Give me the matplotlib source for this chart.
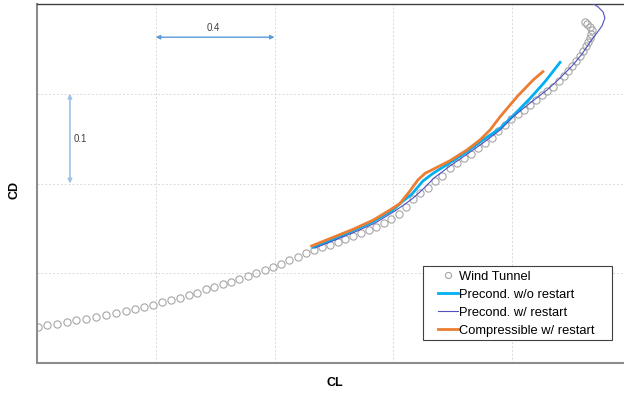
import matplotlib.pyplot as plt
from matplotlib.patches import Rectangle

plt.rcParams['font.family'] = ['Liberation Sans', 'DejaVu Sans']

# Wind tunnel data (CL, CD)
wt_cl = [0.002, 0.035, 0.067, 0.100, 0.132, 0.165, 0.199, 0.232, 0.266, 0.299,
         0.329, 0.361, 0.392, 0.422, 0.451, 0.483, 0.511, 0.540, 0.568, 0.596,
         0.625, 0.652, 0.681, 0.711, 0.738, 0.767, 0.795, 0.822, 0.850, 0.878,
         0.906, 0.933, 0.961, 0.987, 1.013, 1.039, 1.065, 1.091, 1.117, 1.143,
         1.168, 1.193, 1.218, 1.243, 1.267, 1.290, 1.317, 1.341, 1.364, 1.391,
         1.415, 1.438, 1.462, 1.485, 1.509, 1.533, 1.553, 1.576, 1.597, 1.620,
         1.640, 1.661, 1.681, 1.701, 1.718, 1.738, 1.758, 1.775, 1.789, 1.802,
         1.816, 1.829, 1.839, 1.849, 1.856, 1.863, 1.866, 1.870, 1.863, 1.853,
         1.846]
wt_cd = [0.0404, 0.0423, 0.0438, 0.0457, 0.0476, 0.0490, 0.0516, 0.0531, 0.0554, 0.0576,
         0.0598, 0.0624, 0.0650, 0.0676, 0.0702, 0.0727, 0.0758, 0.0783, 0.0821, 0.0850,
         0.0880, 0.0906, 0.0936, 0.0966, 0.0999, 0.1036, 0.1073, 0.1106, 0.1148, 0.1184,
         0.1226, 0.1259, 0.1289, 0.1318, 0.1348, 0.1378, 0.1412, 0.1445, 0.1479, 0.1519,
         0.1556, 0.1604, 0.1657, 0.1738, 0.1827, 0.1894, 0.1950, 0.2028, 0.2084, 0.2173,
         0.2228, 0.2284, 0.2329, 0.2396, 0.2451, 0.2507, 0.2585, 0.2652, 0.2719, 0.2774,
         0.2819, 0.2875, 0.2930, 0.2986, 0.3031, 0.3075, 0.3142, 0.3198, 0.3253, 0.3309,
         0.3365, 0.3421, 0.3476, 0.3532, 0.3577, 0.3621, 0.3666, 0.3710, 0.3744, 0.3777,
         0.3799]

# Preconditioned, no restart
pre_cl = [0.930, 0.997, 1.064, 1.132, 1.199, 1.233, 1.263, 1.300, 1.334, 1.391,
          1.448, 1.502, 1.560, 1.603, 1.661, 1.711, 1.762]
pre_cd = [0.1289, 0.1378, 0.1474, 0.1574, 0.1705, 0.1805, 0.1883, 0.2028, 0.2113, 0.2231,
          0.2354, 0.2485, 0.2615, 0.2752, 0.2949, 0.3134, 0.3350]

# Preconditioned, with restart
prer_cl = [0.936, 1.004, 1.071, 1.139, 1.206, 1.240, 1.267, 1.290, 1.314, 1.337,
           1.364, 1.391, 1.445, 1.502, 1.560, 1.603, 1.661, 1.718, 1.762, 1.802,
           1.836, 1.863, 1.886, 1.903, 1.913, 1.907, 1.890, 1.870, 1.846]
prer_cd = [0.1281, 0.1370, 0.1460, 0.1560, 0.1694, 0.1772, 0.1838, 0.1905, 0.1983, 0.2061,
           0.2128, 0.2195, 0.2318, 0.2451, 0.2596, 0.2741, 0.2897, 0.3042, 0.3175, 0.3309,
           0.3443, 0.3577, 0.3677, 0.3755, 0.3844, 0.3911, 0.3967, 0.4011, 0.4067]

# Compressible, with restart
comp_cl = [0.925, 0.998, 1.065, 1.133, 1.189, 1.223, 1.256, 1.283, 1.307, 1.334,
           1.391, 1.448, 1.492, 1.526, 1.560, 1.617, 1.671, 1.704]
comp_cd = [0.1304, 0.1401, 0.1490, 0.1593, 0.1705, 0.1779, 0.1916, 0.2039, 0.2113, 0.2158,
           0.2254, 0.2373, 0.2485, 0.2596, 0.2744, 0.2967, 0.3153, 0.3246]

W, H = 624, 396
fig = plt.figure(figsize=(W / 100, H / 100), dpi=100)
ax = fig.add_axes([37 / W, 33 / H, 1 - 37 / W, 359 / H])

ax.plot(wt_cl, wt_cd, linestyle='none', marker='o', markersize=5.2,
        markerfacecolor='none', markeredgecolor='#a6a6a6', markeredgewidth=0.8,
        label='Wind Tunnel', zorder=2)
ax.plot(pre_cl, pre_cd, color='#00b0f0', lw=2, label='Precond. w/o restart', zorder=3)
ax.plot(prer_cl, prer_cd, color='#5050c0', lw=0.8, label='Precond. w/ restart', zorder=4)
ax.plot(comp_cl, comp_cd, color='#ed7d31', lw=2, label='Compressible w/ restart', zorder=3)

ax.set_xlim(0, 587 / 296.875)
ax.set_ylim(0, 0.4)
ax.set_xticks([0.4, 0.8, 1.2, 1.6])
ax.set_yticks([0.1, 0.2, 0.3])
ax.tick_params(length=0, labelbottom=False, labelleft=False)
ax.grid(True, color='#d9d9d9', linestyle=(0, (2, 2)), lw=0.7)
ax.set_axisbelow(True)

ax.spines['right'].set_visible(False)
ax.spines['top'].set_color('#404040')
ax.spines['top'].set_linewidth(1.0)
for side in ('left', 'bottom'):
    ax.spines[side].set_color('#8c8c8c')
    ax.spines[side].set_linewidth(1.5)

# scale markers
ax.annotate('', xy=(0.4, 0.363), xytext=(0.8, 0.363),
            arrowprops=dict(arrowstyle='<|-|>', color='#5b9bd5', lw=1, mutation_scale=6,
                            shrinkA=0, shrinkB=0))
ax.text(0.593, 0.373, '0.4', fontsize=7, color='#404040', ha='center', va='center')
ax.annotate('', xy=(0.111, 0.3), xytext=(0.111, 0.2),
            arrowprops=dict(arrowstyle='<|-|>', color='#9dc3e6', lw=1.2, mutation_scale=6,
                            shrinkA=0, shrinkB=0))
ax.text(0.123, 0.2496, '0.1', fontsize=7, color='#404040', ha='left', va='center')

fig.text(335 / W, 1 - 383 / H, 'CL', fontsize=9, fontweight='bold', ha='center', va='center')
fig.text(14 / W, 1 - 190 / H, 'CD', fontsize=9, fontweight='bold', rotation=90,
         ha='center', va='center')

# legend box drawn separately, entries placed inside it
box = Rectangle((422.5 / W, 1 - 340 / H), 189 / W, 74.5 / H,
                transform=fig.transFigure, facecolor='white',
                edgecolor='#404040', lw=0.8, zorder=5, clip_on=False)
ax.add_patch(box)
leg = ax.legend(loc='upper left', bbox_to_anchor=(438 / W, 1 - 270.5 / H),
                bbox_transform=fig.transFigure, borderaxespad=0, borderpad=0,
                fontsize=9.3, frameon=False, numpoints=1, markerscale=0.85,
                handlelength=1.55, handletextpad=0.1, labelspacing=0.47)
leg.set_zorder(6)

fig.savefig('out.png', dpi=100)
